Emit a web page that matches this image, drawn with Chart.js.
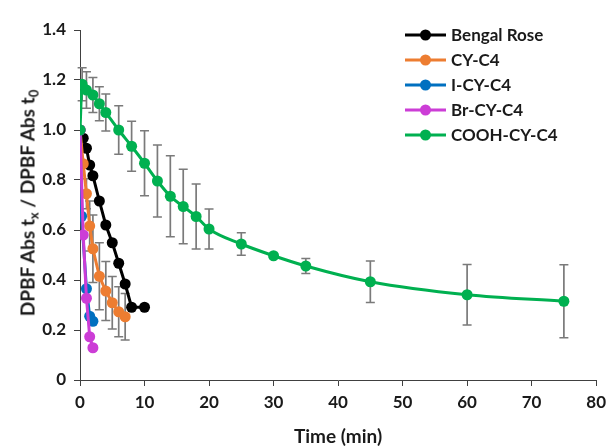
<!DOCTYPE html>
<html>
<head>
<meta charset="utf-8">
<script src="https://cdn.jsdelivr.net/npm/chart.js@4.4.1/dist/chart.umd.min.js"></script>
<style>
  html, body { margin: 0; padding: 0; background: #fff; }
  #wrap { position: relative; width: 612px; height: 447px; }
  #c { position: absolute; left: 0; top: 0; }
  #ytitle {
    position: absolute; left: 27px; top: 203px;
    transform: translate(-50%, -50%) rotate(-90deg);
    white-space: nowrap; font-family: Lato, "Open Sans", sans-serif;
    font-weight: bold; font-size: 19px; color: #1a1a1a;
  }
  #ytitle sub { font-size: 13px; vertical-align: -4px; line-height: 0; }
</style>
</head>
<body>
<div id="wrap">
  <canvas id="c" width="612" height="447"></canvas>
  <div id="ytitle">DPBF Abs t<sub>x</sub> / DPBF Abs t<sub>0</sub></div>
</div>
<script>
// ---- Data ----
const seriesNames = ["Bengal Rose", "CY-C4", "I-CY-C4", "Br-CY-C4", "COOH-CY-C4"];

const roseTime = [0, 0.5, 1, 1.5, 2, 3, 4, 5, 6, 7, 8, 10];
const roseVal  = [1.0, 0.967, 0.927, 0.86, 0.817, 0.716, 0.62, 0.549, 0.467, 0.384, 0.291, 0.291];

const cyTime = [0, 0.5, 1, 1.5, 2, 3, 4, 5, 6, 7];
const cyVal  = [1.0, 0.865, 0.745, 0.616, 0.525, 0.415, 0.356, 0.309, 0.273, 0.253];
const cyErr  = [0, 0, 0.06, 0.1, 0.135, 0.134, 0.118, 0.105, 0.1, 0.093];

const iTime = [0, 0.25, 1, 1.5, 2];
const iVal  = [1.0, 0.655, 0.365, 0.255, 0.235];

const brTime = [0, 0.5, 1, 1.5, 2];
const brVal  = [1.0, 0.58, 0.327, 0.173, 0.129];

const coohTime = [0, 0.33, 1, 2, 3, 4, 6, 8, 10, 12, 14, 16, 18, 20, 25, 30, 35, 45, 60, 75];
const coohVal  = [1.0, 1.183, 1.16, 1.14, 1.105, 1.07, 1.0, 0.935, 0.867, 0.796, 0.735, 0.694, 0.654, 0.604, 0.544, 0.497, 0.456, 0.393, 0.341, 0.315];
const coohErr  = [0, 0.066, 0.073, 0.07, 0.068, 0.074, 0.097, 0.10, 0.13, 0.144, 0.162, 0.149, 0.13, 0.08, 0.045, 0, 0.03, 0.083, 0.121, 0.146];

const xTicks = [0, 10, 20, 30, 40, 50, 60, 70, 80];
const yTicks = [0, 0.2, 0.4, 0.6, 0.8, 1, 1.2, 1.4];

const colors = ["#000000", "#ED7D31", "#0070C0", "#CC3DD6", "#00B050"];

function pts(t, v) { return t.map((x, i) => ({ x: x, y: v[i] })); }

const FONT = "Lato, 'Open Sans', sans-serif";

function mkDs(i, t, v, err, order, smooth) {
  return {
    label: seriesNames[i],
    data: pts(t, v),
    errors: err || null,
    borderColor: colors[i],
    backgroundColor: colors[i],
    pointBackgroundColor: colors[i],
    pointBorderColor: colors[i],
    pointRadius: 5.5,
    pointBorderWidth: 0,
    borderWidth: 3,
    tension: smooth ? 0.4 : 0,
    cubicInterpolationMode: smooth ? 'monotone' : 'default',
    order: order
  };
}

const datasets = [
  mkDs(0, roseTime, roseVal, null, 4, false),
  mkDs(1, cyTime, cyVal, cyErr, 3, false),
  mkDs(2, iTime, iVal, null, 2, false),
  mkDs(3, brTime, brVal, null, 1, false),
  mkDs(4, coohTime, coohVal, coohErr, 0, true)
];

const errBars = {
  id: 'errBars',
  beforeDatasetsDraw(chart) {
    const ctx = chart.ctx, xs = chart.scales.x, ys = chart.scales.y;
    ctx.save();
    ctx.strokeStyle = '#7a7a7a';
    ctx.lineWidth = 1.7;
    chart.data.datasets.forEach(ds => {
      if (!ds.errors) return;
      ds.data.forEach((p, i) => {
        const e = ds.errors[i];
        if (!e) return;
        const px = xs.getPixelForValue(p.x);
        const y1 = ys.getPixelForValue(p.y + e);
        const y2 = ys.getPixelForValue(p.y - e);
        ctx.beginPath();
        ctx.moveTo(px, y1); ctx.lineTo(px, y2);
        ctx.moveTo(px - 4.5, y1); ctx.lineTo(px + 4.5, y1);
        ctx.moveTo(px - 4.5, y2); ctx.lineTo(px + 4.5, y2);
        ctx.stroke();
      });
    });
    ctx.restore();
  }
};

const legendPlugin = {
  id: 'customLegend',
  afterDraw(chart) {
    const ctx = chart.ctx;
    const x0 = 405, x1 = 446, tx = 451, y0 = 35, dy = 25;
    ctx.save();
    chart.data.datasets.forEach((ds, i) => {
      const y = y0 + i * dy;
      ctx.strokeStyle = ds.borderColor;
      ctx.lineWidth = 3;
      ctx.beginPath(); ctx.moveTo(x0, y); ctx.lineTo(x1, y); ctx.stroke();
      ctx.fillStyle = ds.borderColor;
      ctx.beginPath(); ctx.arc((x0 + x1) / 2, y, 5.5, 0, Math.PI * 2); ctx.fill();
      ctx.fillStyle = '#1a1a1a';
      ctx.font = "bold 17px " + FONT;
      ctx.textBaseline = 'middle';
      ctx.textAlign = 'left';
      ctx.fillText(ds.label, tx, y + 1);
    });
    ctx.restore();
  }
};

new Chart(document.getElementById('c'), {
  type: 'line',
  data: { datasets: datasets },
  options: {
    responsive: false,
    animation: false,
    layout: { padding: { top: 30, right: 14, bottom: 0, left: 0 } },
    plugins: { legend: { display: false }, tooltip: { enabled: false } },
    scales: {
      x: {
        type: 'linear', min: 0, max: 80,
        afterBuildTicks: s => { s.ticks = xTicks.map(v => ({ value: v })); },
        afterFit: s => { s.height = 67; },
        ticks: { color: '#1a1a1a', font: { family: FONT, size: 17, weight: 'bold' }, padding: 6, maxRotation: 0 },
        grid: { drawOnChartArea: false, tickLength: 6, color: '#404040', lineWidth: 1 },
        border: { color: '#404040', width: 1 },
        title: { display: true, text: 'Time (min)', color: '#1a1a1a', font: { family: FONT, size: 19, weight: 'bold' }, padding: { top: 2, bottom: -1 } }
      },
      y: {
        type: 'linear', min: 0, max: 1.4,
        afterBuildTicks: s => { s.ticks = yTicks.map(v => ({ value: v })); },
        afterFit: s => { s.width = 80; },
        ticks: { color: '#1a1a1a', font: { family: FONT, size: 17, weight: 'bold' }, padding: 8 },
        grid: { drawOnChartArea: false, tickLength: 6, color: '#404040', lineWidth: 1 },
        border: { color: '#404040', width: 1 }
      }
    }
  },
  plugins: [errBars, legendPlugin]
});
</script>
</body>
</html>
